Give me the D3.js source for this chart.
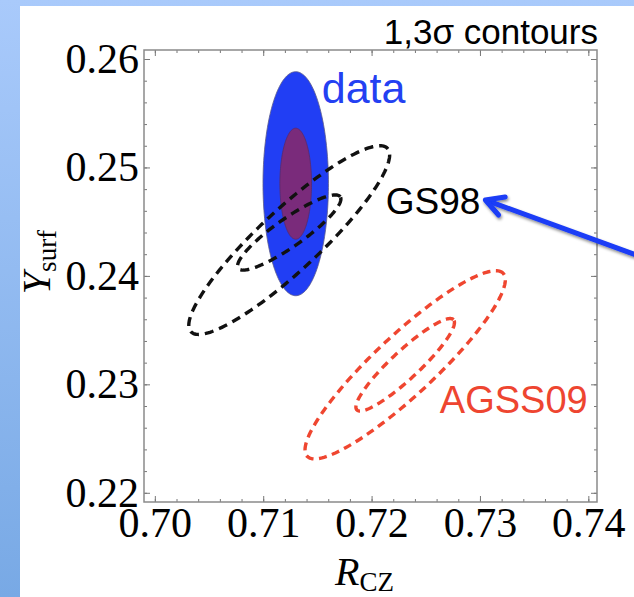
<!DOCTYPE html>
<html>
<head>
<meta charset="utf-8">
<script src="https://cdn.jsdelivr.net/npm/d3@7"></script>
<style>
  body { margin: 0; }
  svg { display: block; }
</style>
</head>
<body>
<svg id="chart" width="634" height="597"></svg>
<script>
const xTicks = [0.70, 0.71, 0.72, 0.73, 0.74];
const yTicks = [0.22, 0.23, 0.24, 0.25, 0.26];
const xDomain = [0.699, 0.7408];
const yDomain = [0.21915, 0.26083];

// contours as ellipses: centre, semi-axes, tilt in degrees
const contourNames = ["data3", "data1", "gs3", "gs1", "agss3", "agss1"];
const centreX   = [0.7130, 0.7130, 0.7124, 0.7124, 0.7231, 0.7231];
const centreY   = [0.2485, 0.2485, 0.2433, 0.2440, 0.2318, 0.2318];
const semiMajor = [0.00302, 0.00146, 0.01240, 0.00575, 0.01237, 0.00610];
const semiMinor = [0.01033, 0.00512, 0.00280, 0.00130, 0.00277, 0.00129];
const tiltDeg   = [0, 0, 43, 35, 43, 43];

const labelText = ["data", "GS98", "AGSS09"];
const labelX    = [0.7154, 0.7213, 0.7263];
const labelY    = [0.2559, 0.2457, 0.2274];

const arrowFrom = [0.7442, 0.2420];
const arrowTo   = [0.7305, 0.2470];

const svg = d3.select("#chart");
const W = 634, H = 597;
const margin = { top: 50, right: 37, bottom: 95, left: 144 },
    width = W - margin.left - margin.right,
    height = H - margin.top - margin.bottom;

// backdrop: slide-like blue border with a white panel
const defs = svg.append("defs");
const grad = defs.append("linearGradient").attr("id", "bg")
    .attr("x1", 0).attr("y1", 0).attr("x2", 0).attr("y2", 1);
grad.append("stop").attr("offset", "0%").attr("stop-color", "#a9cafb");
grad.append("stop").attr("offset", "100%").attr("stop-color", "#78a9e5");
svg.append("rect").attr("width", W).attr("height", H).attr("fill", "url(#bg)");
svg.append("rect").attr("x", 20).attr("y", 6).attr("width", W - 20).attr("height", H - 6).attr("fill", "#fff");

const shadow = defs.append("filter").attr("id", "shadow")
    .attr("x", "-20%").attr("y", "-20%").attr("width", "140%").attr("height", "140%");
shadow.append("feDropShadow").attr("dx", 1).attr("dy", 2).attr("stdDeviation", 1.5)
    .attr("flood-color", "#000").attr("flood-opacity", 0.45);

const x = d3.scaleLinear().domain(xDomain).range([0, width]);
const y = d3.scaleLinear().domain(yDomain).range([height, 0]);

const g = svg.append("g")
    .attr("transform", "translate(" + margin.left + "," + margin.top + ")");

// ellipse outline points in data space
function ellipse(i) {
    const th = tiltDeg[i] * Math.PI / 180;
    return d3.range(0, 181).map(k => {
        const t = k / 180 * 2 * Math.PI;
        const dx = semiMajor[i] * Math.cos(t), dy = semiMinor[i] * Math.sin(t);
        return [centreX[i] + dx * Math.cos(th) - dy * Math.sin(th),
                centreY[i] + dx * Math.sin(th) + dy * Math.cos(th)];
    });
}
const line = d3.line().x(d => x(d[0])).y(d => y(d[1])).curve(d3.curveLinearClosed);

// data: filled blue / purple
g.append("path").attr("d", line(ellipse(0)))
    .attr("fill", "#213ef4").attr("stroke", "#5a5a8a").attr("stroke-width", 0.8);
g.append("path").attr("d", line(ellipse(1)))
    .attr("fill", "#7a2b7b").attr("stroke", "#5a2a6a").attr("stroke-width", 0.8);

// models: dashed outlines
[2, 3].forEach(i => g.append("path").attr("d", line(ellipse(i)))
    .attr("fill", "none").attr("stroke", "#111").attr("stroke-width", 3.4)
    .attr("stroke-dasharray", "9,6"));
[4, 5].forEach(i => g.append("path").attr("d", line(ellipse(i)))
    .attr("fill", "none").attr("stroke", "#ef4630").attr("stroke-width", 3.4)
    .attr("stroke-dasharray", "8,5.5"));

// axes with inward ticks on all four sides
const minorX = d3.range(0.698, 0.7421, 0.002).filter(v => v >= xDomain[0] && v <= xDomain[1]);
const minorY = d3.range(0.218, 0.2621, 0.002).filter(v => v >= yDomain[0] && v <= yDomain[1]);
const tickCol = "#777";

function styleAxis(sel) {
    sel.select(".domain").remove();
    sel.selectAll("line").attr("stroke", tickCol).attr("stroke-width", 1);
}

g.append("g").attr("transform", "translate(0," + height + ")")
    .call(d3.axisBottom(x).tickValues(minorX).tickSize(-3).tickFormat(""))
    .call(styleAxis);
g.append("g").attr("transform", "translate(0," + height + ")")
    .call(d3.axisBottom(x).tickValues(xTicks).tickSize(-6).tickPadding(3).tickFormat(d3.format(".2f")))
    .call(styleAxis)
    .selectAll("text").attr("font-family", "Liberation Serif").attr("font-size", 42)
    .attr("fill", "#000").attr("dy", "0.75em");
g.append("g")
    .call(d3.axisTop(x).tickValues(minorX).tickSize(-3).tickFormat(""))
    .call(styleAxis);
g.append("g")
    .call(d3.axisTop(x).tickValues(xTicks).tickSize(-6).tickFormat(""))
    .call(styleAxis);

g.append("g")
    .call(d3.axisLeft(y).tickValues(minorY).tickSize(-3).tickFormat(""))
    .call(styleAxis);
g.append("g")
    .call(d3.axisLeft(y).tickValues(yTicks).tickSize(-6).tickPadding(5).tickFormat(d3.format(".2f")))
    .call(styleAxis)
    .selectAll("text").attr("font-family", "Liberation Serif").attr("font-size", 42)
    .attr("fill", "#000");
g.append("g").attr("transform", "translate(" + width + ",0)")
    .call(d3.axisRight(y).tickValues(minorY).tickSize(-3).tickFormat(""))
    .call(styleAxis);
g.append("g").attr("transform", "translate(" + width + ",0)")
    .call(d3.axisRight(y).tickValues(yTicks).tickSize(-6).tickFormat(""))
    .call(styleAxis);

// frame
g.append("rect").attr("width", width).attr("height", height)
    .attr("fill", "none").attr("stroke", "#8a8a8a").attr("stroke-width", 1.5);

// axis titles
const xt = svg.append("text").attr("x", margin.left + width / 2 - 6).attr("y", 585)
    .attr("text-anchor", "middle").attr("font-family", "Liberation Serif").attr("font-size", 40);
xt.append("tspan").attr("font-style", "italic").text("R");
xt.append("tspan").attr("font-size", 27).attr("dy", 6).text("CZ");

const yt = svg.append("text").attr("transform", "translate(50,262) rotate(-90)")
    .attr("text-anchor", "middle").attr("font-family", "Liberation Serif").attr("font-size", 40);
yt.append("tspan").attr("font-style", "italic").text("Y");
yt.append("tspan").attr("font-size", 27).attr("dy", 6).text("surf");

// title
svg.append("text").attr("x", 598).attr("y", 44).attr("text-anchor", "end")
    .attr("font-family", "Liberation Sans").attr("font-size", 35).attr("fill", "#000")
    .text("1,3σ contours");

// labels
const labelCol = ["#2340f2", "#000", "#ee4530"];
const labelSize = [43, 37, 38];
labelText.forEach((t, i) => g.append("text")
    .attr("x", x(labelX[i])).attr("y", y(labelY[i]))
    .attr("font-family", "Liberation Sans").attr("font-size", labelSize[i])
    .attr("fill", labelCol[i]).text(t));

// arrow to GS98
const ax0 = x(arrowFrom[0]) + margin.left, ay0 = y(arrowFrom[1]) + margin.top;
const ax1 = x(arrowTo[0]) + margin.left, ay1 = y(arrowTo[1]) + margin.top;
const ang = Math.atan2(ay0 - ay1, ax0 - ax1);
const head = 20, spread = 0.5;
const arrow = svg.append("g").attr("filter", "url(#shadow)")
    .attr("stroke", "#1a3cf6").attr("stroke-width", 5).attr("fill", "none")
    .attr("stroke-linecap", "round").attr("stroke-linejoin", "round");
arrow.append("line").attr("x1", ax0).attr("y1", ay0).attr("x2", ax1 + 2 * Math.cos(ang)).attr("y2", ay1 + 2 * Math.sin(ang));
arrow.append("path").attr("d", d3.line()([
    [ax1 + head * Math.cos(ang - spread), ay1 + head * Math.sin(ang - spread)],
    [ax1, ay1],
    [ax1 + head * Math.cos(ang + spread), ay1 + head * Math.sin(ang + spread)]
]));
</script>
</body>
</html>
